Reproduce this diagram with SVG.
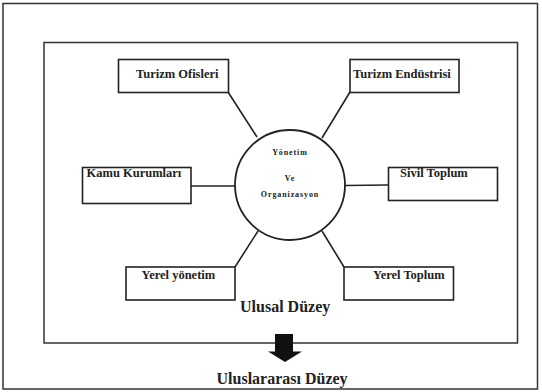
<svg xmlns="http://www.w3.org/2000/svg" width="542" height="392" viewBox="0 0 542 392">
<style>
.frame{fill:none;stroke:#333;stroke-width:1.5}
.box{fill:#fff;stroke:#222;stroke-width:1.6}
.conn{stroke:#222;stroke-width:1.6;fill:none}
.lbl{font-family:"Liberation Serif",serif;font-weight:bold;font-size:12.5px;fill:#222}
.ctr{font-family:"Liberation Serif",serif;font-weight:bold;font-size:8px;fill:#222;text-anchor:middle;letter-spacing:0.9px}
.lvl{font-family:"Liberation Serif",serif;font-weight:bold;font-size:16px;fill:#222}
</style>
<rect width="542" height="392" fill="#fff"/>
<rect id="outer" class="frame" x="3" y="3.5" width="534.5" height="385.5"/>
<rect id="inner" class="frame" x="44" y="42.5" width="473.5" height="300.5"/>
<g id="connectors">
<line class="conn" x1="228" y1="92" x2="257" y2="137"/>
<line class="conn" x1="350" y1="92" x2="322" y2="138"/>
<line class="conn" x1="191" y1="186" x2="235" y2="186"/>
<line class="conn" x1="345" y1="185.5" x2="388" y2="185"/>
<line class="conn" x1="235" y1="267" x2="258" y2="231"/>
<line class="conn" x1="344" y1="267" x2="322" y2="231"/>
</g>
<g id="center">
<circle cx="290" cy="185" r="55" fill="#fff" stroke="#222" stroke-width="1.8"/>
<text class="ctr" x="290" y="154.5">Yönetim</text>
<text class="ctr" x="290" y="181">Ve</text>
<text class="ctr" x="290" y="197">Organizasyon</text>
</g>
<g id="turizm-ofisleri">
<rect class="box" x="118.5" y="59.5" width="110" height="33"/>
<text class="lbl" x="136" y="77.5">Turizm Ofisleri</text>
</g>
<g id="turizm-endustrisi">
<rect class="box" x="350" y="59.5" width="109" height="33"/>
<text class="lbl" x="353" y="77.5">Turizm Endüstrisi</text>
</g>
<g id="kamu-kurumlari">
<rect class="box" x="82.5" y="167.5" width="108.5" height="36"/>
<text class="lbl" x="86.5" y="177" font-size="12">Kamu Kurumları</text>
</g>
<g id="sivil-toplum">
<rect class="box" x="388.5" y="167.5" width="109" height="33"/>
<text class="lbl" x="400" y="177">Sivil Toplum</text>
</g>
<g id="yerel-yonetim">
<rect class="box" x="126" y="267" width="109" height="33"/>
<text class="lbl" x="141.5" y="278.5">Yerel yönetim</text>
</g>
<g id="yerel-toplum">
<rect class="box" x="344" y="267" width="109.5" height="33"/>
<text class="lbl" x="373" y="278.5">Yerel Toplum</text>
</g>
<text id="ulusal" class="lvl" x="240" y="312">Ulusal Düzey</text>
<g id="arrow">
<rect x="275" y="334" width="18" height="18" fill="#111"/>
<polygon points="268,351.5 302,351.5 285,362" fill="#111"/>
</g>
<text id="uluslararasi" class="lvl" x="216.5" y="383.5">Uluslararası Düzey</text>
</svg>
